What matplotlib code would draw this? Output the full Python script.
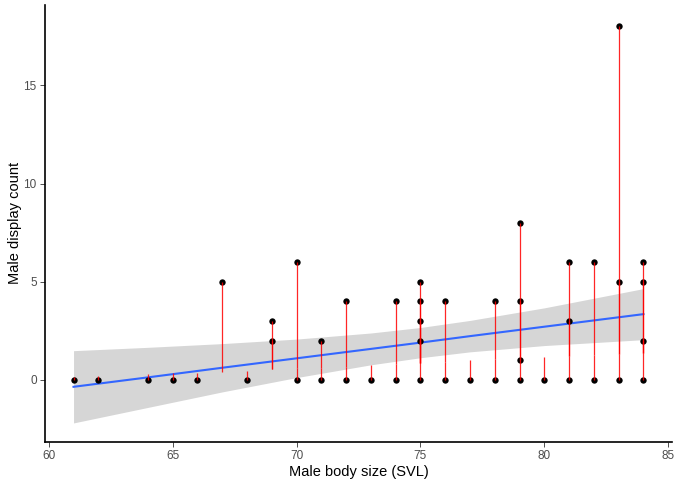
import matplotlib
matplotlib.use("Agg")
import matplotlib.pyplot as plt
import numpy as np

# ---- data ----
svl = [61, 62, 64, 65, 66, 67, 68, 69, 69, 70, 70, 71, 71, 72, 72, 73, 74, 74,
       75, 75, 75, 75, 75, 76, 76, 77, 78, 78, 79, 79, 79, 79, 80, 81, 81, 81,
       82, 82, 83, 83, 83, 84, 84, 84, 84]
display = [0, 0, 0, 0, 0, 5, 0, 3, 2, 0, 6, 0, 2, 0, 4, 0, 0, 4,
           0, 2, 3, 4, 5, 0, 4, 0, 0, 4, 0, 1, 4, 8, 0, 0, 3, 6,
           0, 6, 0, 5, 18, 0, 2, 5, 6]

# segment anchor (other end of each red segment) per SVL value
anchor_x = [61, 62, 64, 65, 66, 67, 68, 69, 70, 71, 72, 73, 74, 75, 76, 77,
            78, 79, 80, 81, 82, 83, 84]
anchor_y = [0.15, 0.2, 0.3, 0.34, 0.37, 0.42, 0.47, 0.55, 0.6, 0.62, 0.68,
            0.77, 0.8, 0.85, 0.9, 1.02, 1.05, 1.1, 1.17, 1.2, 1.25, 1.3, 1.35]

# linear smooth and its confidence band
band_x = [61, 64, 67, 70, 73, 75, 77, 80, 84]
fit_y = [-0.35, 0.13, 0.62, 1.10, 1.58, 1.90, 2.23, 2.71, 3.35]
band_lo = [-2.19, -1.40, -0.61, 0.12, 0.77, 1.13, 1.43, 1.75, 2.05]
band_hi = [1.49, 1.66, 1.85, 2.08, 2.39, 2.67, 3.03, 3.67, 4.65]

x_ticks = [60, 65, 70, 75, 80, 85]
y_ticks = [0, 5, 10, 15]

plt.rcParams['font.family'] = ['Liberation Sans', 'DejaVu Sans']

fig = plt.figure(figsize=(6.76, 4.82), dpi=100)
ax = fig.add_axes([0.0666, 0.083, 0.9274, 0.907])

ax.fill_between(band_x, band_lo, band_hi, color='#999999', alpha=0.4,
                linewidth=0, zorder=1)
ax.plot(band_x, fit_y, color='#3366FF', linewidth=1.5, zorder=2)

ax.scatter(svl, display, s=21, color='black', zorder=3, linewidths=0)

amap = dict(zip(anchor_x, anchor_y))
seg_lo = [min(y, amap[x]) for x, y in zip(svl, display)]
seg_hi = [max(y, amap[x]) for x, y in zip(svl, display)]
ax.vlines(svl, seg_lo, seg_hi, color='red', linewidth=0.9, alpha=0.85,
          zorder=4)

ax.set_xlim(59.85, 85.15)
ax.set_ylim(-3.16, 19.1)
ax.set_xticks(x_ticks)
ax.set_yticks(y_ticks)
for s in ['top', 'right']:
    ax.spines[s].set_visible(False)
for s in ['left', 'bottom']:
    ax.spines[s].set_linewidth(1.2)
    ax.spines[s].set_color('black')
ax.tick_params(axis='both', length=3.5, width=0.6, color='#333333',
               labelcolor='#4D4D4D', labelsize=8.5, pad=2.5)
ax.set_xlabel('Male body size (SVL)', fontsize=10.5, color='black', labelpad=2)
ax.set_ylabel('Male display count', fontsize=10.5, color='black', labelpad=1)

fig.savefig('out.png', dpi=100)
